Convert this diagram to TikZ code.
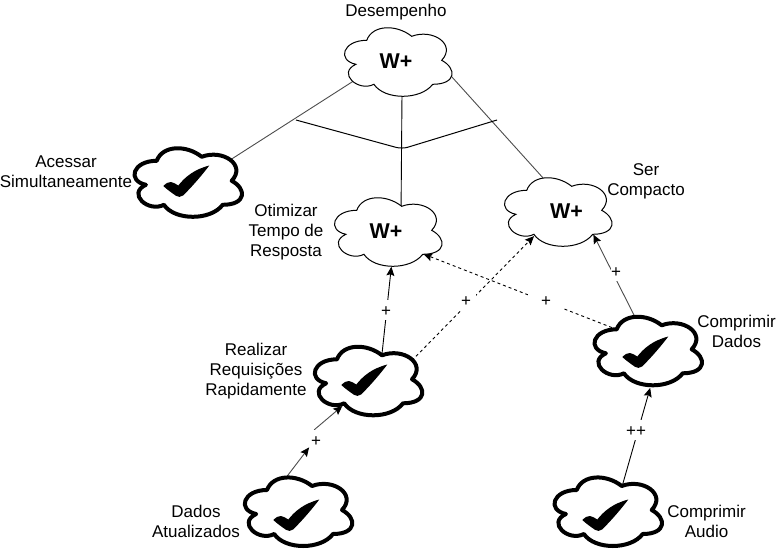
\documentclass[tikz,border=0pt]{standalone}
\usepackage{fontspec}
\setmainfont{Liberation Sans}
\usetikzlibrary{arrows.meta,shapes.geometric}
\pgfdeclarelayer{edges}
\pgfsetlayers{edges,main}
\tikzset{
  softcloud/.style={fill=white,draw=black,line width=1pt},
  donecloud/.style={fill=white,draw=black,line width=4pt},
  hook/.style={shape=ellipse,inner sep=0pt,outer sep=0pt,minimum width=80pt,minimum height=46pt},
  caption/.style={align=center,inner sep=0pt,yshift=-1.5pt,font=\fontsize{17}{20}\selectfont},
  goaltext/.style={font=\fontsize{21.4}{24}\selectfont\bfseries,text height=16.9pt,text depth=0pt},
  plus/.style={fill=white,inner sep=0pt,minimum height=20pt,minimum width=10pt,text height=13.4pt,text depth=0pt,font=\fontsize{17}{20}\selectfont},
  link/.style={line width=0.9pt,draw=black!70},
  straightlink/.style={line width=0.9pt,draw=black},
  arrowtip/.style={-{Stealth[length=9pt,width=8pt,inset=1.5pt,color=black,fill=black]}},
  arrowlink/.style={straightlink,arrowtip},
  slantarrow/.style={link,arrowtip},
  dashlink/.style={straightlink,arrowtip,dash pattern=on 3pt off 3pt}
}
\newcommand\cloudoutline{(-30,-20) .. controls (-54,-20) and (-60,0) .. (-40.8,4)
  .. controls (-60,12.8) and (-38.4,32) .. (-22.8,24)
  .. controls (-12,40) and (24,40) .. (36,24)
  .. controls (60,24) and (60,8) .. (45,0)
  .. controls (60,-16) and (36,-32) .. (15,-24)
  .. controls (0,-36) and (-24,-36) .. (-30,-20) -- cycle}
% name, x, y, cloud dx, cloud dy, text
\newcommand\softgoal[6]{%
  \draw[softcloud,shift={(#2+#4,#3+#5)}] \cloudoutline;
  \node[hook,goaltext] (#1) at (#2,#3) {#6};}
% name, x, y, cloud dx, cloud dy, check dx, check dy
\newcommand\donegoal[7]{%
  \draw[donecloud,shift={(#2+#4,#3+#5)},line join=round] \cloudoutline;
  \node[hook] (#1) at (#2,#3) {};
  \fill[shift={(#2+#6,#3+#7)}] (-24.7,6) .. controls (-22,3.5) and (-19.5,1.5) .. (-17,2)
    .. controls (-14.5,2.5) and (-12,4) .. (-9.7,5.5)
    .. controls (-3,-3) and (6,-10.5) .. (21.3,-14.5)
    .. controls (15,-6) and (3,8) .. (-5,15.5)
    .. controls (-7,17.3) and (-10,17.3) .. (-12,15.8)
    .. controls (-16,13) and (-21,9.5) .. cycle;}
\begin{document}
\begin{tikzpicture}[x=1pt,y=-1pt]
\useasboundingbox (0,0) rectangle (776,554);
\softgoal{top}{396}{60}{0.7}{0.3}{W+}
\softgoal{opt}{388}{230}{-1.3}{0.3}{W+\hspace*{4pt}}
\softgoal{ser}{558}{210}{-1.3}{0.3}{\hspace*{17pt}W+}
\donegoal{ace}{188}{180}{-1.3}{0.8}{0}{0}
\donegoal{rea}{368}{380}{-1}{-0.7}{-2}{-1}
\donegoal{cdd}{648}{350}{-1.3}{-0.7}{-1}{1}
\donegoal{dad}{298}{510}{-1}{0}{0}{4}
\donegoal{cau}{608}{510}{-1.3}{0}{-1}{4}

\node[caption] (tdes) at (396,10.5) {Desempenho};
\node[caption] (tace) at (66,170) {Acessar\\Simultaneamente};
\node[caption] (topt) at (286,231) {Otimizar\\Tempo de\\Resposta};
\node[caption] (tser) at (646,180) {Ser\\Compacto};
\node[caption] (trea) at (256,370) {Realizar\\Requisições\\Rapidamente};
\node[caption] (tcdd) at (736.5,330) {Comprimir\\Dados};
\node[caption] (tdad) at (196,520) {Dados\\Atualizados};
\node[caption] (tcau) at (706.5,520) {Comprimir\\Audio};

\node[plus] (p1) at (386,310) {+};
\node[plus,minimum width=20pt] (p2) at (466,300) {+};
\node[plus,minimum width=36pt] (p3) at (546,300) {+};
\node[plus] (p4) at (616,271) {+};
\node[plus] (p5) at (316,440) {+};
\node[plus] (p6) at (636,430) {++};

\coordinate (barL) at (296,120);
\coordinate (barM) at (402,149);
\coordinate (barR) at (497,120);

\begin{pgfonlayer}{edges}
\draw[link] (top.204.9) -- (ace.23.2);
\draw[straightlink] (top.-75.3) -- (opt.59.1);
\draw[link] (top.1.7) -- (ser.106.5);
\draw[line width=1pt,rounded corners=6pt] (barL) -- (barM) -- (barR);
\draw[arrowlink,shorten >=14pt] (rea.58.2) -- (opt.-78.8);
\draw[dashlink,shorten >=8pt] (rea.17.3) -- (ser.-132.2);
\draw[dashlink,shorten >=13.6pt] (cdd.144.7) -- (opt.-40.4);
\draw[slantarrow,shorten >=10.9pt] (cdd.109.7) -- (ser.-26.9);
\draw[arrowlink,shorten >=15.8pt] (cau.58) -- (cdd.-74.6);
\draw[slantarrow,shorten >=2.8pt] (dad.139.7) -- (p5.225);
\draw[slantarrow,shorten >=8.9pt] (p5.100) -- (rea.-133.7);
\end{pgfonlayer}
\end{tikzpicture}
\end{document}
